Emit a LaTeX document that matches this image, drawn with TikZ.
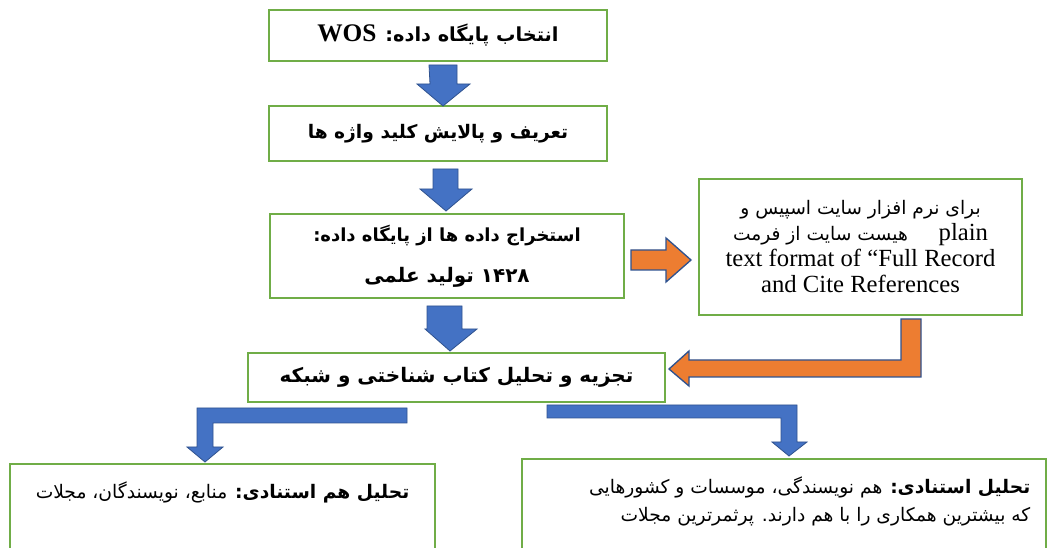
\documentclass[tikz,border=0pt]{standalone}
\usepackage{fontspec}
\setmainfont{Liberation Serif}
\newfontfamily\fa[Script=Arabic]{DejaVu Sans}
\TeXXeTstate=1
\usetikzlibrary{calc}

\definecolor{boxgreen}{HTML}{70AD47}
\definecolor{arrowblue}{HTML}{4472C4}
\definecolor{arroworange}{HTML}{ED7D31}
\definecolor{rimblue}{HTML}{2F528F}

\tikzset{
  stepbox/.style={draw=boxgreen, line width=1.5pt, fill=white, inner sep=0pt},
  bluearrow/.style={fill=arrowblue, draw=rimblue, line width=0.6pt, line join=miter},
  orangearrow/.style={fill=arroworange, draw=rimblue, line width=1pt, line join=miter},
  faheavy/.style={font=\fa\bfseries\fontsize{#1}{31}\selectfont},
  falight/.style={font=\fa\fontsize{14}{21}\selectfont}
}

\begin{document}
\begin{tikzpicture}[x=0.75pt,y=-0.75pt]
  \clip (0,0) rectangle (1049,548);
  \fill[white] (0,0) rectangle (1049,548);
  % main column
  \node[stepbox, faheavy=14.5, minimum width=253.5pt, minimum height=38.25pt] (pick) at (438,35.5)
    {\beginR انتخاب پایگاه داده: \beginL{\rmfamily\bfseries\fontsize{19}{20}\selectfont WOS}\endL\endR};
  \node[stepbox, faheavy=14, minimum width=253.5pt, minimum height=41.25pt] (keys) at (438,133.5)
    {\beginR تعریف و پالایش کلید واژه ها\endR};
  \node[stepbox, faheavy=13.5, minimum width=265.5pt, minimum height=63pt, align=center] (fetch) at (447,256)
    {\beginR استخراج داده ها از پایگاه داده:\endR\\ {\fontsize{15}{31}\selectfont\beginR ۱۴۲۸ تولید علمی\endR}};
  \node[stepbox, faheavy=15, minimum width=312.75pt, minimum height=36.75pt] (parse) at (456.5,377.5)
    {\beginR تجزیه و تحلیل کتاب شناختی و شبکه\endR};
  % side note
  \node[stepbox, minimum width=242.25pt, minimum height=102pt, align=center,
        font=\fontsize{18.5}{19.5}\selectfont] (format) at (860.5,247)
    {{\fa\fontsize{14}{19.5}\selectfont\beginR برای نرم افزار سایت اسپیس و\endR}\\
     {\fa\fontsize{14}{19.5}\selectfont\beginR هیست سایت از فرمت\endR}\quad\ plain\\
     text format of “Full Record\\
     and Cite References};
  % results
  \node[stepbox, minimum width=318.75pt, minimum height=79.5pt] (cocite) at (222.5,517) {};
  \node[stepbox, minimum width=393pt, minimum height=83.25pt] (cite) at (784,514.5) {};
  \node[falight, anchor=north east] (cocitetxt) at ($(cocite.north east)+(-22,14)$)
    {\beginR{\bfseries تحلیل هم استنادی:} منابع، نویسندگان، مجلات\endR};
  \node[falight, anchor=north east, align=right] (citetxt) at ($(cite.north east)+(-12,14)$)
    {\beginR{\bfseries تحلیل استنادی:} هم نویسندگی، موسسات و کشورهایی\endR\\
     \beginR که بیشترین همکاری را با هم دارند. پرثمرترین مجلات\endR};
  % block arrows down the column
  \draw[bluearrow] ($(pick.south)+(-9,3)$) -- ++(28,0) -- ++(0,19) -- ++(13,0)
    -- ++(-27,22) -- ++(-26,-22) -- ++(13,0) -- cycle;
  \draw[bluearrow] ($(keys.south)+(-5,7)$) -- ++(25,0) -- ++(0,20) -- ++(14,0)
    -- ++(-26,22) -- ++(-26,-22) -- ++(13,0) -- cycle;
  \draw[bluearrow] ($(fetch.south)+(-20,7)$) -- ++(35,0) -- ++(0,23) -- ++(15,0)
    -- ++(-27,22) -- ++(-25,-22) -- ++(2,0) -- cycle;
  % to the note and back
  \draw[orangearrow] ($(format.west)+(-67,3)$) -- ++(35,0) -- ++(0,-12) -- ++(25,22)
    -- ++(-25,22) -- ++(0,-12) -- ++(-35,0) -- cycle;
  \draw[orangearrow] ($(format.south)+(40.5,3)$) -- ++(20,0) -- ++(0,58) -- ++(-232,0)
    -- ++(0,9) -- ++(-20,-17) -- ++(20,-18) -- ++(0,9) -- ++(212,0) -- cycle;
  % split into the two analyses
  \draw[bluearrow] ($(parse.south)+(-49.5,5)$) -- ++(-210,0) -- ++(0,39) -- ++(-10,0)
    -- ++(18,15) -- ++(18,-15) -- ++(-10,0) -- ++(0,-24) -- ++(194,0) -- cycle;
  \draw[bluearrow] ($(parse.south)+(90.5,2)$) -- ++(250,0) -- ++(0,37) -- ++(10,0)
    -- ++(-18,14) -- ++(-17,-14) -- ++(9,0) -- ++(0,-24) -- ++(-234,0) -- cycle;
\end{tikzpicture}
\end{document}
